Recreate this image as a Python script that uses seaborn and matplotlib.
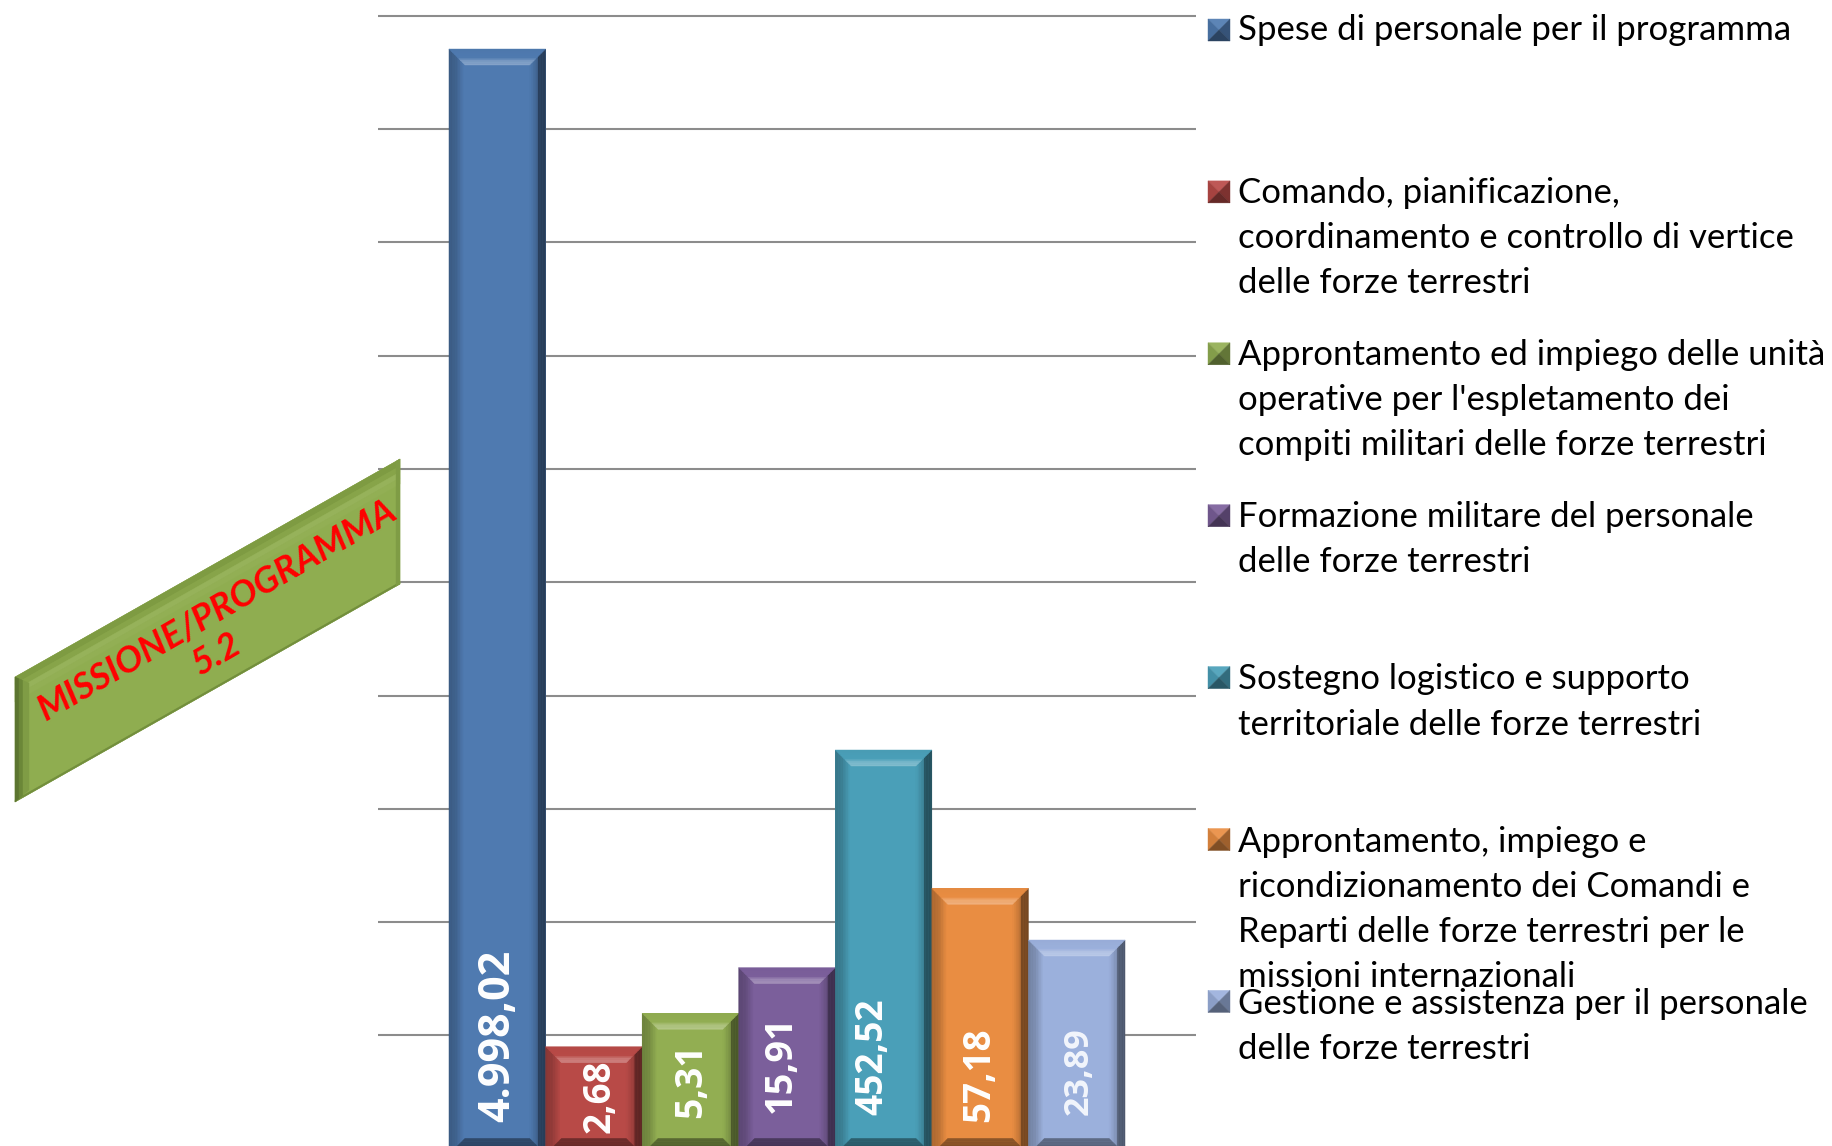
import numpy as np
import pandas as pd
import matplotlib.pyplot as plt
import seaborn as sns
from matplotlib.colors import to_rgb
from matplotlib.patches import Polygon

# bar heights are in gridline units, the picture's axis is not linear with the printed values
programmes = [
    "Spese di personale per il programma",
    "Comando, pianificazione,\ncoordinamento e controllo di vertice\ndelle forze terrestri",
    "Approntamento ed impiego delle unità\noperative per l'espletamento dei\ncompiti militari delle forze terrestri",
    "Formazione militare del personale\ndelle forze terrestri",
    "Sostegno logistico e supporto\nterritoriale delle forze terrestri",
    "Approntamento, impiego e\nricondizionamento dei Comandi e\nReparti delle forze terrestri per le\nmissioni internazionali",
    "Gestione e assistenza per il personale\ndelle forze terrestri",
]
bar_heights = [9.706, 0.900, 1.195, 1.598, 3.519, 2.298, 1.842]
bar_labels = ["4.998,02", "2,68", "5,31", "15,91", "452,52", "57,18", "23,89"]
bar_colours = ["#4F7AB0", "#B84A47", "#92AE52", "#7B5F9B", "#4A9FB8", "#E98D42", "#9BB0DC"]

label_sizes = [31, 26.5, 26.8, 27.4, 26.7, 26.5, 24.5]
label_px_x = [498, 600, 691, 781, 872, 979, 1079]
label_px_bottom = [1122, 1133, 1118, 1113, 1115, 1122, 1115]

W, H = 1832, 1146
GRID_BOTTOM = 1148.7
GRID_STEP = 113.3
BAR_PX = 96.57


def fx(x):
    return x / W


def fy(y):
    return 1 - y / H


def shade(colour, f):
    c = np.array(to_rgb(colour))
    if f < 1:
        return tuple(c * f)
    return tuple(c + (1 - c) * (f - 1))


def bevel(ax, patch, colour):
    x0 = patch.get_x()
    x1 = x0 + patch.get_width()
    y1 = patch.get_height()
    y0 = -0.05
    dx = 16 / BAR_PX
    dy = 16 / GRID_STEP
    n = 10
    left = np.interp(np.arange(n), [0, 4, 9], [0.74, 0.8, 1.0])
    right = np.interp(np.arange(n), [0, 4, 5, 9], [0.5, 0.52, 0.82, 0.98])
    top = np.interp(np.arange(n), [0, 5, 7, 9], [0.98, 1.0, 1.25, 1.3])
    bottom = np.interp(np.arange(n), [0, 9], [0.5, 0.6])
    for i in range(n):
        a, b = i / n, (i + 1) / n
        sides = [
            (left[i], [(x0 + a * dx, y0 + a * dy), (x0 + b * dx, y0 + b * dy),
                       (x0 + b * dx, y1 - b * dy), (x0 + a * dx, y1 - a * dy)]),
            (right[i], [(x1 - a * dx, y0 + a * dy), (x1 - b * dx, y0 + b * dy),
                        (x1 - b * dx, y1 - b * dy), (x1 - a * dx, y1 - a * dy)]),
            (top[i], [(x0 + a * dx, y1 - a * dy), (x0 + b * dx, y1 - b * dy),
                      (x1 - b * dx, y1 - b * dy), (x1 - a * dx, y1 - a * dy)]),
            (bottom[i], [(x0 + a * dx, y0 + a * dy), (x0 + b * dx, y0 + b * dy),
                         (x1 - b * dx, y0 + b * dy), (x1 - a * dx, y0 + a * dy)]),
        ]
        for f, pts in sides:
            c = shade(colour, f)
            ax.add_patch(Polygon(pts, closed=True, facecolor=c, edgecolor=c, lw=0.3, zorder=3))


def fig_poly(fig, pts, colour):
    pts = [(fx(x), fy(y)) for x, y in pts]
    fig.add_artist(Polygon(pts, closed=True, facecolor=colour, edgecolor=colour, lw=0.3,
                           transform=fig.transFigure))


def legend_marker(fig, cx, cy, colour):
    s = 11
    tl, tr, br, bl, m = (cx - s, cy - s), (cx + s, cy - s), (cx + s, cy + s), (cx - s, cy + s), (cx, cy)
    fig_poly(fig, [tl, tr, m], shade(colour, 1.08))
    fig_poly(fig, [tl, bl, m], shade(colour, 0.9))
    fig_poly(fig, [tr, br, m], shade(colour, 0.68))
    fig_poly(fig, [bl, br, m], shade(colour, 0.55))


def banner(fig):
    base = "#8FAD50"
    slope = (677 - 459) / 385

    def top_y(x):
        return 677 - slope * (x - 15)

    def bot_y(x):
        return 802 - slope * (x - 15) * 1.0

    fig_poly(fig, [(15, top_y(15)), (400, top_y(400)), (400, bot_y(400)), (15, bot_y(15))], base)
    # top bevel
    bands = [(0, 7, "#7E9B42"), (7, 13, "#87A449"), (13, 19, "#96B25A"), (19, 25, "#92AF54")]
    for a, b, c in bands:
        fig_poly(fig, [(15, top_y(15) + a), (400, top_y(400) + a), (400, top_y(400) + b), (15, top_y(15) + b)], c)
    fig_poly(fig, [(15, bot_y(15) - 2), (400, bot_y(400) - 2), (400, bot_y(400)), (15, bot_y(15))], "#728E3C")
    for a, b, c in [(0, 4, "#5C7530"), (4, 8, "#6B8738"), (8, 14, "#7F9C45")]:
        xa, xb = 15 + a, 15 + b
        fig_poly(fig, [(xa, top_y(xa) + a), (xb, top_y(xb) + b), (xb, bot_y(xb) - b * 0.3), (xa, bot_y(xa) - a * 0.3)], c)
    fig_poly(fig, [(396, top_y(396)), (400, top_y(400)), (400, bot_y(400)), (396, bot_y(396))], "#7F9C45")
    fig.text(fx(217), fy(610), "MISSIONE/PROGRAMMA", color="#FF0000", fontsize=26.3, fontweight="bold",
             fontstyle="italic", rotation=30, ha="center", va="center", rotation_mode="anchor")
    fig.text(fx(217), fy(654), "5.2", color="#FF0000", fontsize=26.3, fontweight="bold",
             fontstyle="italic", rotation=30, ha="center", va="center", rotation_mode="anchor")


def main():
    sns.set_theme(style="white")
    plt.rcParams["font.family"] = ["Lato", "DejaVu Sans"]

    df = pd.DataFrame({"programma": programmes, "altezza": bar_heights})

    fig = plt.figure(figsize=(W / 100, H / 100), dpi=100, facecolor="white")
    ax = fig.add_axes([fx(378), 0, (1196 - 378) / W, 1])
    ax.patch.set_alpha(0)

    sns.barplot(
        data=df,
        x="programma",
        y="altezza",
        hue="programma",
        palette=bar_colours,
        width=1,
        saturation=1,
        legend=False,
        linewidth=0,
        ax=ax,
    )
    ax.set_xlim(-1.235, 7.235)
    ax.set_ylim((GRID_BOTTOM - H) / GRID_STEP, GRID_BOTTOM / GRID_STEP)
    ax.set_yticks(range(1, 11))
    ax.set_xticks([])
    ax.set_yticklabels([])
    ax.tick_params(length=0)
    ax.set_xlabel("")
    ax.set_ylabel("")
    ax.set_axisbelow(True)
    ax.yaxis.grid(True, color="#8C8C8C", lw=1.5)
    sns.despine(ax=ax, left=True, bottom=True)

    bars = [p for cont in ax.containers for p in cont]
    for p, c in zip(bars, bar_colours):
        bevel(ax, p, c)

    for i, txt in enumerate(bar_labels):
        colour = "#F2F5FC" if i == 6 else "white"
        fig.text(fx(label_px_x[i]), fy(label_px_bottom[i]), txt, color=colour,
                 fontsize=label_sizes[i], fontweight="bold", family="Open Sans", rotation=90,
                 ha="center", va="bottom")

    for i, (name, c) in enumerate(zip(programmes, bar_colours)):
        legend_marker(fig, 1219, 30 + 161.9 * i, c)
        fig.text(fx(1238), fy(14.5 + 162.2 * i), name, color="black", fontsize=25,
                 ha="left", va="top", linespacing=1.51)

    banner(fig)
    fig.savefig("out.png", dpi=100)


if __name__ == "__main__":
    main()
